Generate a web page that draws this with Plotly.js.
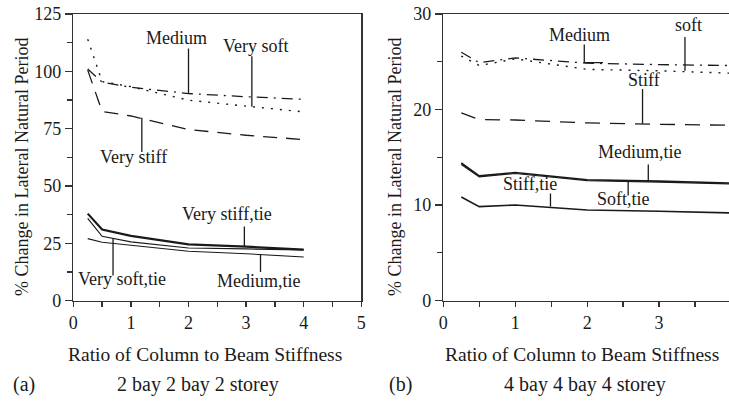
<!DOCTYPE html>
<html>
<head>
<meta charset="utf-8">
<script src="https://cdn.plot.ly/plotly-3.0.1.min.js"></script>
<style>
html,body{margin:0;padding:0;overflow:hidden;background:#fff;}
#chart{width:735px;height:411px;}
</style>
</head>
<body>
<div id="chart"></div>
<script>
// ---- data ----
const ratio = [0.25, 0.5, 1, 2, 3, 4];

// (a) 2 bay 2 bay 2 storey
const aVerySoft      = [114, 95.5, 93.3, 87.4, 84.8, 82.3];
const aMedium        = [101, 95.3, 93.0, 90.3, 88.9, 87.8];
const aVeryStiff     = [100.5, 82.5, 80.5, 74.6, 72.1, 70.2];
const aVeryStiffTie  = [37.9, 31.0, 28.2, 24.5, 23.5, 22.2];
const aVerySoftTie   = [35.8, 28.0, 25.6, 22.9, 22.5, 22.1];
const aMediumTie     = [27.0, 25.4, 24.1, 21.5, 20.4, 19.0];

// (b) 4 bay 4 bay 4 storey
const bMedium        = [26.0, 24.9, 25.4, 24.85, 24.7, 24.6];
const bSoft          = [25.6, 24.6, 25.3, 24.2, 24.05, 23.8];
const bStiff         = [19.65, 18.95, 18.9, 18.6, 18.45, 18.35];
const bMediumTie     = [14.4, 13.05, 13.4, 12.65, 12.5, 12.3];
const bSoftTie       = [14.25, 12.95, 13.3, 12.55, 12.4, 12.2];
const bStiffTie      = [10.83, 9.83, 10.0, 9.48, 9.34, 9.17];

// ---- helpers ----
const W = 735, H = 411;
const px = v => v / W;
const py = v => 1 - v / H;
const INK = '#1a1a1a';
const FONT = '"Liberation Serif", "Times New Roman", Times, serif';

function tr(y, xa, ya, width, dash) {
  return {x: ratio, y: y, xaxis: xa, yaxis: ya, mode: 'lines',
    line: {color: INK, width: width, dash: dash}, hoverinfo: 'skip'};
}

const traces = [
  tr(aVerySoft, 'x', 'y', 1.4, '2px,7px'),
  tr(aMedium, 'x', 'y', 1.3, '11px,6px,2px,6px'),
  tr(aVeryStiff, 'x', 'y', 1.3, '14px,9px'),
  tr(aVeryStiffTie, 'x', 'y', 2.2, 'solid'),
  tr(aVerySoftTie, 'x', 'y', 1.2, 'solid'),
  tr(aMediumTie, 'x', 'y', 1.1, 'solid'),
  tr(bMedium, 'x2', 'y2', 1.3, '11px,6px,2px,6px'),
  tr(bSoft, 'x2', 'y2', 1.4, '2px,7px'),
  tr(bStiff, 'x2', 'y2', 1.3, '15px,10px'),
  tr(bMediumTie, 'x2', 'y2', 1.6, 'solid'),
  tr(bSoftTie, 'x2', 'y2', 1.2, 'solid'),
  tr(bStiffTie, 'x2', 'y2', 1.6, 'solid')
];

function xax(domain, range) {
  return {domain: domain, range: range, showgrid: false, zeroline: false,
    showline: true, linecolor: '#333', linewidth: 1.5, mirror: true,
    ticks: 'outside', ticklen: 5, tickwidth: 1.3, tickcolor: '#333',
    tickmode: 'linear', dtick: 1, tick0: 0,
    minor: {dtick: 0.5, ticks: 'outside', ticklen: 5, tickwidth: 1.3, tickcolor: '#333', showgrid: false},
    tickfont: {family: FONT, size: 18, color: INK}, fixedrange: true};
}
function yax(anchor, range, dtick) {
  return {domain: [py(300.5), py(14)], anchor: anchor, range: range,
    showgrid: false, zeroline: false,
    showline: true, linecolor: '#333', linewidth: 1.5, mirror: true,
    ticks: 'outside', ticklen: 7, tickwidth: 1.3, tickcolor: '#333',
    tickmode: 'linear', dtick: dtick, tick0: 0,
    minor: {dtick: dtick / 2, ticks: 'outside', ticklen: 5, tickwidth: 1.3, tickcolor: '#333', showgrid: false},
    tickfont: {family: FONT, size: 18, color: INK}, fixedrange: true};
}

function lab(text, x, y, xr, yr) {
  return {text: text, x: x, y: y, xref: xr, yref: yr, showarrow: false,
    xanchor: 'center', yanchor: 'middle', font: {family: FONT, size: 18, color: INK}};
}
function ptxt(text, x, y, size, angle) {
  return {text: text, x: px(x), y: py(y), xref: 'paper', yref: 'paper', showarrow: false,
    xanchor: 'center', yanchor: 'middle', textangle: angle || 0,
    font: {family: FONT, size: size, color: INK}};
}
function seg(x0, y0, x1, y1, xr, yr) {
  return {type: 'line', x0: x0, y0: y0, x1: x1, y1: y1, xref: xr, yref: yr,
    line: {color: INK, width: 1.3}};
}

const annotations = [
  lab('Medium', 1.8, 114.5, 'x', 'y'),
  lab('Very soft', 3.17, 111, 'x', 'y'),
  lab('Very stiff', 1.05, 62.6, 'x', 'y'),
  lab('Very stiff,tie', 2.66, 37.9, 'x', 'y'),
  lab('Very soft,tie', 0.85, 9.5, 'x', 'y'),
  lab('Medium,tie', 3.23, 8.7, 'x', 'y'),
  lab('Medium', 1.89, 27.8, 'x2', 'y2'),
  lab('soft', 3.41, 28.85, 'x2', 'y2'),
  lab('Stiff', 2.79, 23.1, 'x2', 'y2'),
  lab('Medium,tie', 2.73, 15.54, 'x2', 'y2'),
  lab('Stiff,tie', 1.21, 12.17, 'x2', 'y2'),
  lab('Soft,tie', 2.5, 10.68, 'x2', 'y2'),
  ptxt('% Change in Lateral Natural Period', 22, 167, 18, -90),
  ptxt('% Change in Lateral Natural Period', 395, 167, 18, -90),
  ptxt('Ratio of Column to Beam Stiffness', 205, 354, 19.5),
  ptxt('Ratio of Column to Beam Stiffness', 582, 354, 19.5),
  ptxt('(a)', 24, 384, 20),
  ptxt('2 bay 2 bay 2 storey', 198, 384, 20),
  ptxt('(b)', 400, 384, 20),
  ptxt('4 bay 4 bay 4 storey', 585, 384, 20)
];

const shapes = [
  seg(2.0, 110, 2.0, 90.3, 'x', 'y'),
  seg(3.1, 106.6, 3.1, 84.5, 'x', 'y'),
  seg(1.19, 79.7, 1.19, 64.8, 'x', 'y'),
  seg(2.97, 32.3, 2.97, 23.6, 'x', 'y'),
  seg(0.69, 27, 0.69, 10.9, 'x', 'y'),
  seg(3.25, 20.1, 3.25, 12.4, 'x', 'y'),
  seg(1.96, 26.8, 1.96, 24.9, 'x2', 'y2'),
  seg(1.96, 24.9, 2.22, 24.9, 'x2', 'y2'),
  seg(3.36, 27.6, 3.36, 24.05, 'x2', 'y2'),
  seg(2.77, 22.15, 2.77, 18.5, 'x2', 'y2'),
  seg(2.85, 14.25, 2.85, 12.5, 'x2', 'y2'),
  seg(1.49, 11.2, 1.49, 9.85, 'x2', 'y2'),
  seg(2.57, 12.5, 2.57, 11.0, 'x2', 'y2')
];

const layout = {
  width: W, height: H,
  margin: {l: 0, r: 0, t: 0, b: 0},
  paper_bgcolor: '#fff', plot_bgcolor: '#fff',
  showlegend: false, hovermode: false,
  font: {family: FONT, color: INK},
  xaxis: Object.assign(xax([px(73.3), px(361.3)], [0, 5]), {anchor: 'y'}),
  yaxis: yax('x', [0, 125], 25),
  xaxis2: Object.assign(xax([px(443.3), px(731)], [0, 4]), {anchor: 'y2'}),
  yaxis2: yax('x2', [0, 30], 10),
  annotations: annotations,
  shapes: shapes
};

Plotly.newPlot('chart', traces, layout, {staticPlot: true, displayModeBar: false});
</script>
</body>
</html>
